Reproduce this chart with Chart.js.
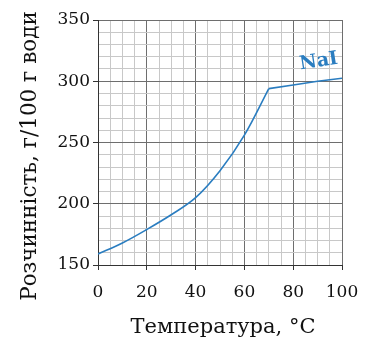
<!DOCTYPE html>
<html>
<head>
<meta charset="utf-8">
<script src="https://cdn.jsdelivr.net/npm/chart.js@4/dist/chart.umd.min.js"></script>
<style>
  html, body { margin: 0; padding: 0; background: #fff; }
  #wrap { width: 366px; height: 343px; }
</style>
</head>
<body>
<div id="wrap"><canvas id="c" width="366" height="343"></canvas></div>
<script>
// Solubility of NaI in water, g per 100 g of water
const tempsRising = [0, 10, 20, 30, 40, 50, 60, 70];
const solRising = [159, 168, 179, 191, 205, 227, 256, 294];
const tempsFlat = [70, 80, 90, 100];
const solFlat = [294, 297, 300, 302.5];

const xTickLabels = [0, 20, 40, 60, 80, 100];
const yTickLabels = [150, 200, 250, 300, 350];

const seriesName = 'NaI';
const xTitle = 'Температура, °C';
const yTitle = 'Розчинність, г/100 г води';

const lineColor = '#2a7dc0';
const majorGrid = '#6e6e6e';
const minorGrid = '#c8c8c8';
const textColor = '#111';
const serif = '"DejaVu Serif", "Liberation Serif", serif';

const toPoints = (xs, ys) => xs.map((x, i) => ({ x, y: ys[i] }));

// Series name along the flat part of the curve, plus both axis titles
const annotations = {
  id: 'annotations',
  afterDatasetsDraw(chart) {
    const { ctx, scales } = chart;
    const px = scales.x.getPixelForValue(90.5);
    const py = scales.y.getPixelForValue(316);
    ctx.save();
    ctx.translate(px, py);
    ctx.rotate(-9 * Math.PI / 180);
    ctx.fillStyle = lineColor;
    ctx.font = 'bold 19px ' + serif;
    ctx.textAlign = 'center';
    ctx.textBaseline = 'middle';
    ctx.fillText(seriesName, 0, 0);
    ctx.restore();
  },
  afterDraw(chart) {
    const { ctx, chartArea } = chart;
    ctx.save();
    ctx.fillStyle = textColor;
    ctx.font = '21px ' + serif;
    ctx.textAlign = 'center';
    ctx.textBaseline = 'alphabetic';
    ctx.fillText(xTitle, (chartArea.left + chartArea.right) / 2 + 3, 333);
    ctx.translate(36, 156);
    ctx.rotate(-Math.PI / 2);
    ctx.font = '21.5px ' + serif;
    ctx.fillText(yTitle, 0, 0);
    ctx.restore();
  }
};

new Chart(document.getElementById('c'), {
  type: 'line',
  data: {
    datasets: [
      {
        label: seriesName,
        data: toPoints(tempsRising, solRising),
        borderColor: lineColor,
        borderWidth: 1.6,
        pointRadius: 0,
        tension: 0.35,
        fill: false
      },
      {
        label: seriesName,
        data: toPoints(tempsFlat, solFlat),
        borderColor: lineColor,
        borderWidth: 1.6,
        pointRadius: 0,
        tension: 0,
        fill: false
      }
    ]
  },
  options: {
    responsive: false,
    animation: false,
    devicePixelRatio: 1,
    layout: { padding: { left: 4, right: 24, top: 20, bottom: 4 } },
    plugins: { legend: { display: false }, tooltip: { enabled: false } },
    scales: {
      x: {
        type: 'linear',
        min: 0,
        max: 100,
        ticks: {
          stepSize: 5,
          autoSkip: false,
          maxRotation: 0,
          padding: 12,
          color: textColor,
          font: { family: serif, size: 17 },
          callback: v => xTickLabels.includes(v) ? String(v) : ''
        },
        grid: {
          color: c => (c.tick && c.tick.value % 20 === 0) ? majorGrid : minorGrid,
          lineWidth: 1,
          tickLength: 5,
          tickColor: c => (c.tick && c.tick.value % 20 === 0) ? '#333' : 'rgba(0,0,0,0)'
        },
        border: { color: '#333', width: 1 },
        title: { display: false },
        afterFit: s => { s.height = 74; s.paddingLeft = 0; s.paddingRight = 0; }
      },
      y: {
        min: 150,
        max: 350,
        ticks: {
          stepSize: 10,
          autoSkip: false,
          padding: 3,
          color: textColor,
          font: { family: serif, size: 17 },
          callback: v => yTickLabels.includes(v) ? String(v) : ''
        },
        grid: {
          color: c => (c.tick && c.tick.value % 50 === 0) ? majorGrid : minorGrid,
          lineWidth: 1,
          tickLength: 5,
          tickColor: c => (c.tick && c.tick.value % 50 === 0) ? '#333' : 'rgba(0,0,0,0)'
        },
        border: { color: '#333', width: 1 },
        title: { display: false },
        afterFit: s => { s.width = 94; }
      }
    }
  },
  plugins: [annotations]
});
</script>
</body>
</html>
